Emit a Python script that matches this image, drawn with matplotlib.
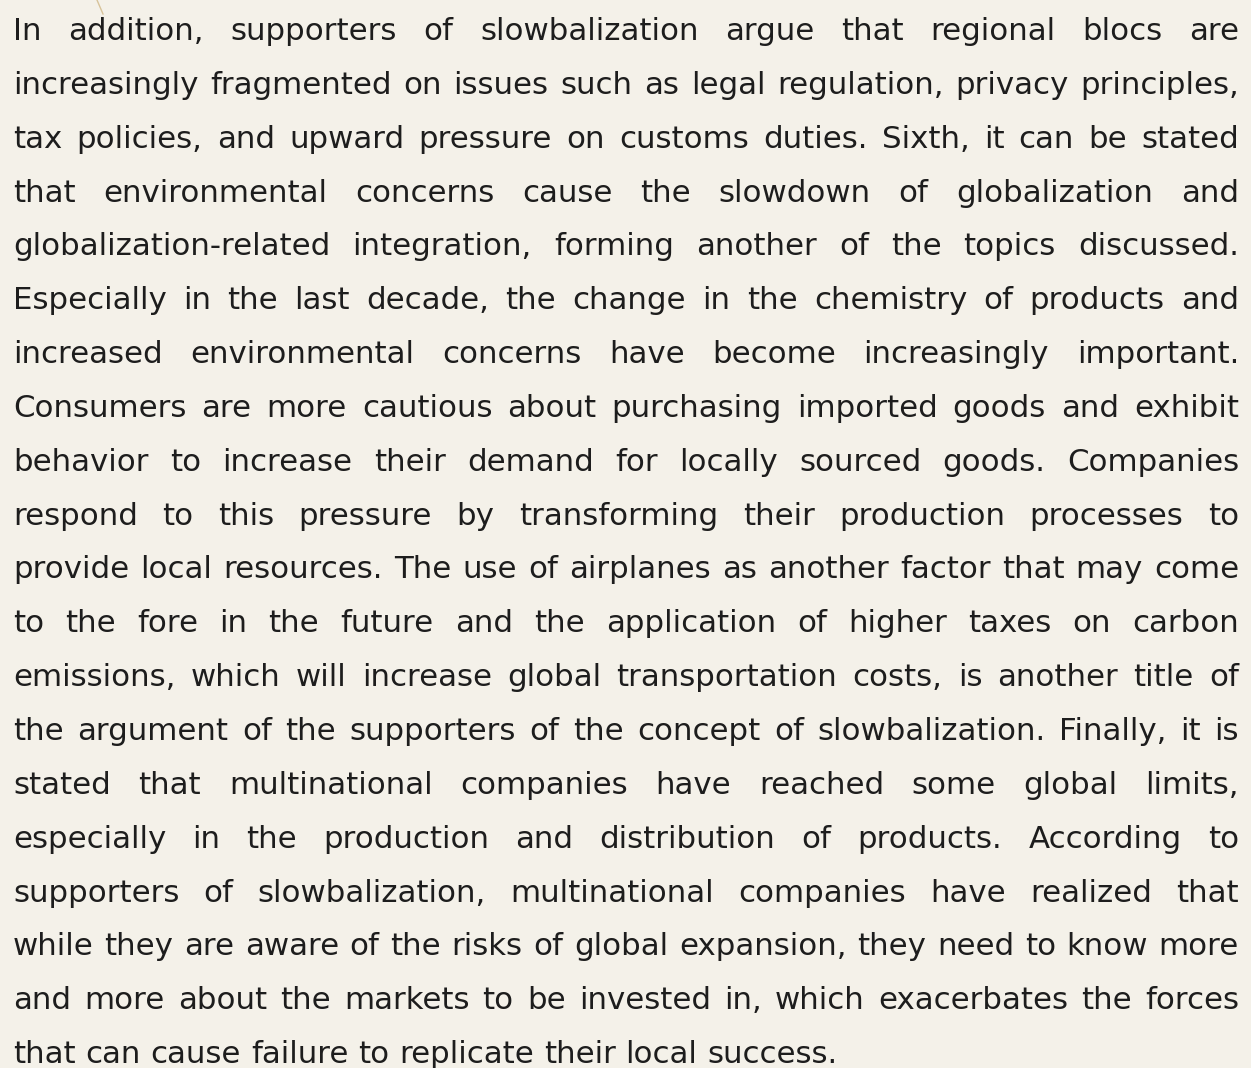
import matplotlib
matplotlib.use("Agg")
import matplotlib.pyplot as plt

# paragraph lines as they break in the source
lines = [
    "In addition, supporters of slowbalization argue that regional blocs are",
    "increasingly fragmented on issues such as legal regulation, privacy principles,",
    "tax policies, and upward pressure on customs duties. Sixth, it can be stated",
    "that environmental concerns cause the slowdown of globalization and",
    "globalization-related integration, forming another of the topics discussed.",
    "Especially in the last decade, the change in the chemistry of products and",
    "increased environmental concerns have become increasingly important.",
    "Consumers are more cautious about purchasing imported goods and exhibit",
    "behavior to increase their demand for locally sourced goods. Companies",
    "respond to this pressure by transforming their production processes to",
    "provide local resources. The use of airplanes as another factor that may come",
    "to the fore in the future and the application of higher taxes on carbon",
    "emissions, which will increase global transportation costs, is another title of",
    "the argument of the supporters of the concept of slowbalization. Finally, it is",
    "stated that multinational companies have reached some global limits,",
    "especially in the production and distribution of products. According to",
    "supporters of slowbalization, multinational companies have realized that",
    "while they are aware of the risks of global expansion, they need to know more",
    "and more about the markets to be invested in, which exacerbates the forces",
    "that can cause failure to replicate their local success.",
]

# small decorative stroke at the top edge
deco_x = [97, 103]
deco_y = [0, 14]

W, H = 1251, 1068
left, right = 13, 1239
first_base, line_gap = 40, 53.85
font = dict(family="DejaVu Sans", size=22.25, color="#1d1d1d")

fig = plt.figure(figsize=(W / 100, H / 100), dpi=100)
fig.patch.set_facecolor("#f4f1e9")
ax = fig.add_axes([0, 0, 1, 1])
ax.set_xlim(0, W)
ax.set_ylim(H, 0)
ax.axis("off")

ax.plot(deco_x, deco_y, color="#d8c39a", lw=1)

renderer = fig.canvas.get_renderer()
space_w = None

for i, line in enumerate(lines):
    y = first_base + i * line_gap
    words = line.split(" ")
    texts = [ax.text(0, y, w, va="baseline", ha="left", **font) for w in words]
    widths = [t.get_window_extent(renderer).width for t in texts]
    if space_w is None:
        a = ax.text(0, 0, "a a", **font)
        b = ax.text(0, 0, "aa", **font)
        space_w = a.get_window_extent(renderer).width - b.get_window_extent(renderer).width
        a.remove()
        b.remove()
    if i < len(lines) - 1 and len(words) > 1:
        gap = (right - left - sum(widths)) / (len(words) - 1)
    else:
        gap = space_w
    x = left
    for t, w in zip(texts, widths):
        t.set_x(x)
        x += w + gap

fig.savefig("out.png", dpi=100, facecolor=fig.get_facecolor())
